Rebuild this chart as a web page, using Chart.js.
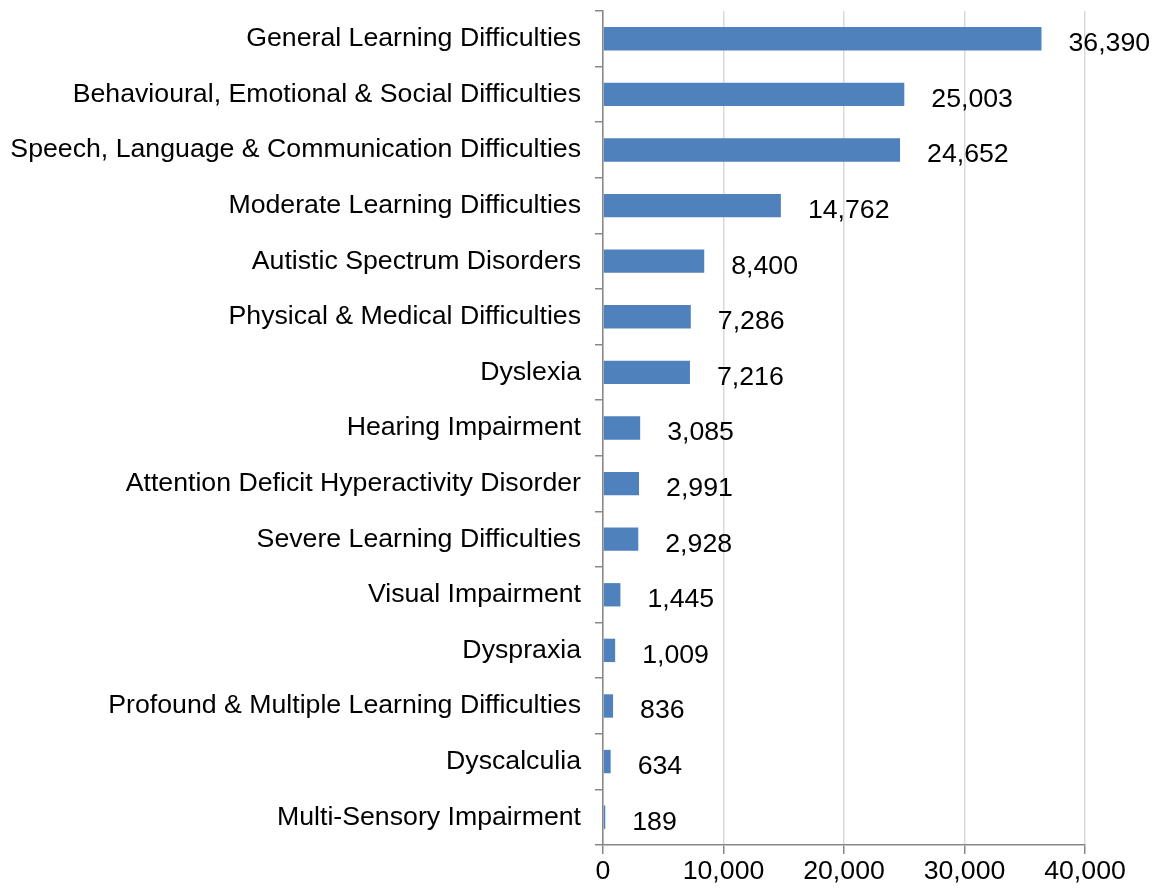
<!DOCTYPE html>
<html>
<head>
<meta charset="utf-8">
<script src="https://cdn.jsdelivr.net/npm/chart.js@4"></script>
<style>
  html, body { margin: 0; padding: 0; background: #fff; }
  #wrap { width: 1152px; height: 890px; }
</style>
</head>
<body>
<div id="wrap"><canvas id="chart" width="1152" height="890"></canvas></div>
<script>
// Categorias y valores
const categories = [
  'General Learning Difficulties',
  'Behavioural, Emotional & Social Difficulties',
  'Speech, Language & Communication Difficulties',
  'Moderate Learning Difficulties',
  'Autistic Spectrum Disorders',
  'Physical & Medical Difficulties',
  'Dyslexia',
  'Hearing Impairment',
  'Attention Deficit Hyperactivity Disorder',
  'Severe Learning Difficulties',
  'Visual Impairment',
  'Dyspraxia',
  'Profound & Multiple Learning Difficulties',
  'Dyscalculia',
  'Multi-Sensory Impairment'
];
const pupils = [36390, 25003, 24652, 14762, 8400, 7286, 7216, 3085, 2991, 2928, 1445, 1009, 836, 634, 189];
const xTicks = [0, 10000, 20000, 30000, 40000];

const fontFamily = '"Liberation Sans", Arial, sans-serif';
const fontSize = 26.7;

// Etiquetas de valor a la derecha de cada barra
const valueLabels = {
  id: 'valueLabels',
  afterDatasetsDraw(chart) {
    const ctx = chart.ctx;
    const meta = chart.getDatasetMeta(0);
    ctx.save();
    ctx.font = fontSize + 'px ' + fontFamily;
    ctx.fillStyle = '#000';
    ctx.textAlign = 'left';
    ctx.textBaseline = 'middle';
    meta.data.forEach((bar, i) => {
      ctx.fillText(pupils[i].toLocaleString('en-US'), bar.x + 27, bar.y + 5);
    });
    ctx.restore();
  }
};

new Chart(document.getElementById('chart'), {
  type: 'bar',
  data: {
    labels: categories,
    datasets: [{
      data: pupils,
      backgroundColor: '#4F81BD',
      borderWidth: 0,
      categoryPercentage: 1,
      barPercentage: 0.42
    }]
  },
  options: {
    indexAxis: 'y',
    responsive: false,
    animation: false,
    layout: { padding: { top: 11, right: 67, left: 0, bottom: 0 } },
    plugins: {
      legend: { display: false },
      tooltip: { enabled: false }
    },
    scales: {
      x: {
        min: 0,
        max: 40000,
        afterBuildTicks(scale) { scale.ticks = xTicks.map(v => ({ value: v })); },
        border: { color: '#888', width: 1.5 },
        grid: { color: '#d9d9d9', lineWidth: 1.5, tickColor: '#888', tickLength: 9 },
        ticks: {
          color: '#000',
          font: { size: fontSize, family: fontFamily },
          padding: 2,
          maxRotation: 0,
          callback: v => v.toLocaleString('en-US')
        }
      },
      y: {
        afterFit(scale) {
          scale.width = 603;
          scale.paddingTop = 0;
          scale.paddingBottom = 0;
        },
        border: { color: '#888', width: 1.5 },
        grid: { drawOnChartArea: false, color: '#888', lineWidth: 1.5, tickLength: 8, offset: true },
        ticks: {
          color: '#000',
          font: { size: fontSize, family: fontFamily },
          padding: 14,
          autoSkip: false
        }
      }
    }
  },
  plugins: [valueLabels]
});
</script>
</body>
</html>
